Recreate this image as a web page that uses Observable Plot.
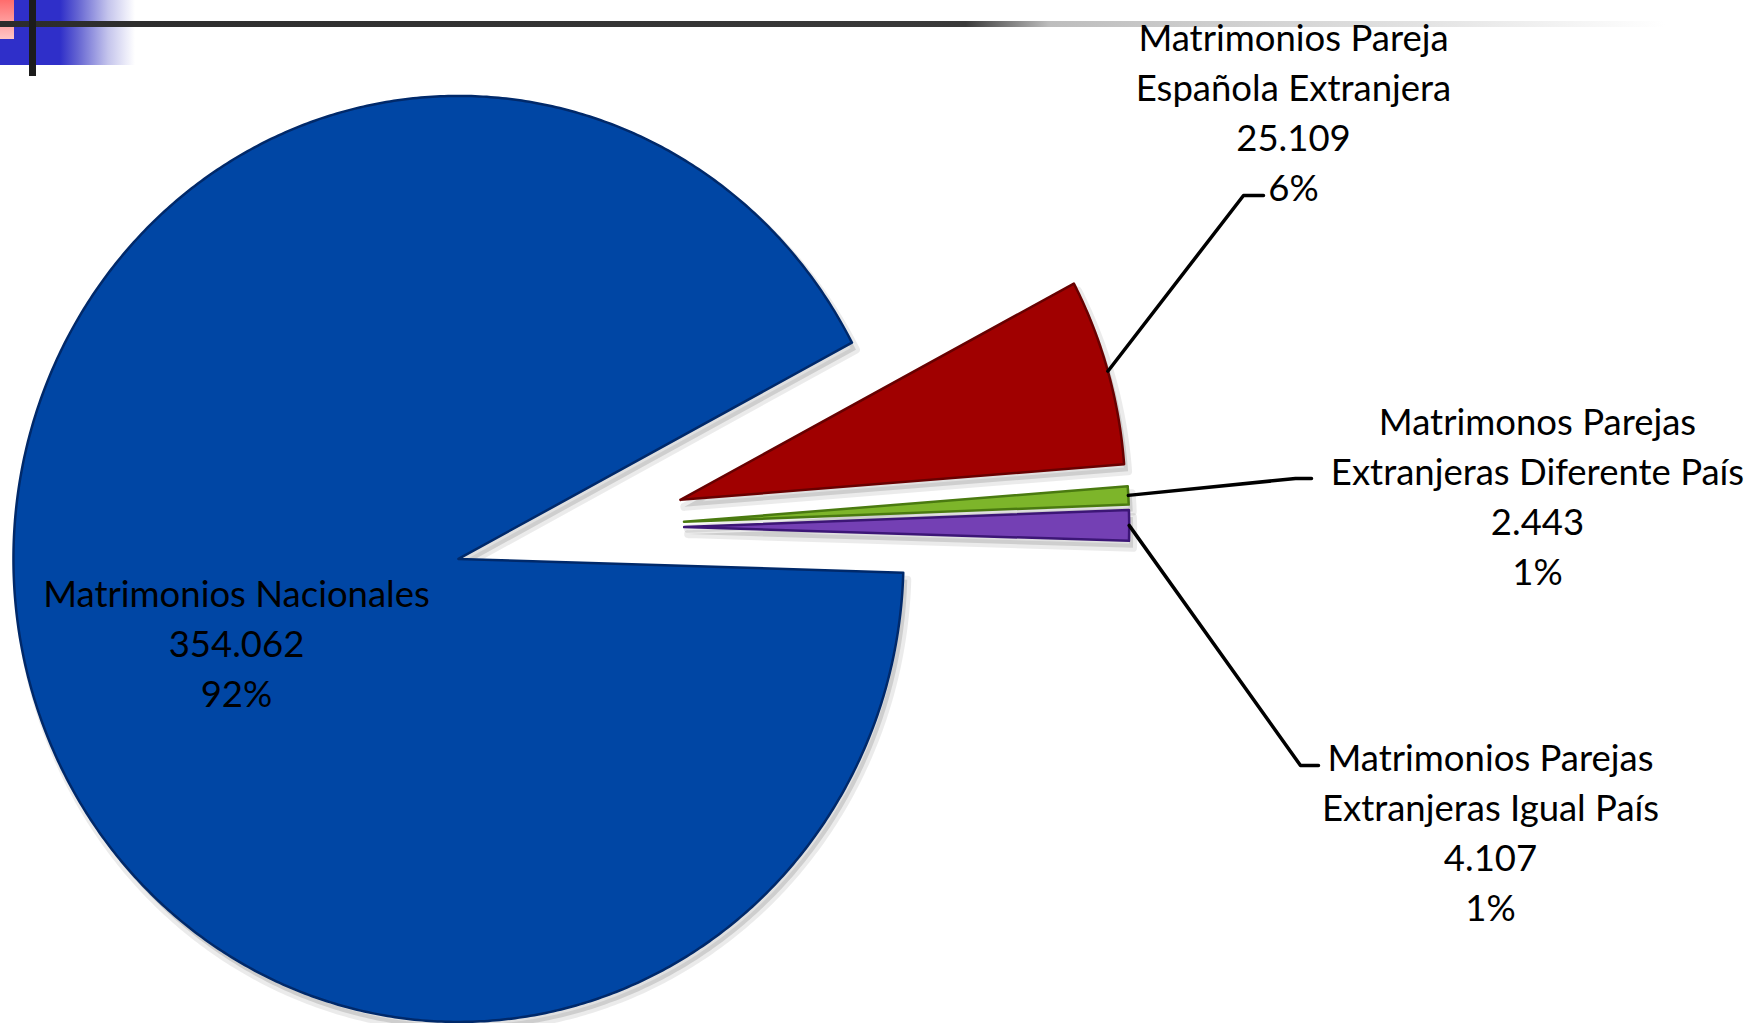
<!DOCTYPE html>
<html><head><meta charset="utf-8">
<script src="https://cdn.jsdelivr.net/npm/d3@7"></script>
<script src="https://cdn.jsdelivr.net/npm/@observablehq/plot@0.6"></script>
<style>
html,body{margin:0;padding:0;background:#fff;}
#wrap{position:relative;width:1751px;height:1023px;overflow:hidden;}
#chart{position:absolute;left:0;top:0;z-index:2;}
.deco{position:absolute;z-index:1;}
</style></head><body>
<div id="wrap">
  <div id="chart"></div>
  <div class="deco" style="left:0;top:0;width:135px;height:65px;background:linear-gradient(to right,#2f2fc9 0,#2f2fc9 60px,#6565d2 78px,#c4c4ec 108px,#fff 135px)"></div>
  <div class="deco" style="left:0;top:0;width:14px;height:39px;background:linear-gradient(#ff6c6c,#ffc6c6)"></div>
  <div class="deco" style="left:0;top:21px;width:1665px;height:6px;background:linear-gradient(to right,#2c2c2c 0%,#3a3a3a 58%,#bdbdbd 63%,#e2e2e2 85%,rgba(255,255,255,0) 100%)"></div>
  <div class="deco" style="left:29px;top:0;width:7px;height:76px;background:#1c1c1c"></div>
</div>
<script>
// ---- data ----
const categories = [
  "Matrimonios Nacionales",
  "Matrimonios Pareja\nEspañola Extranjera",
  "Matrimonos Parejas\nExtranjeras Diferente País",
  "Matrimonios Parejas\nExtranjeras Igual País"
];
const values = [354062, 25109, 2443, 4107];
const percents = [92, 6, 1, 1];

// ---- styles / layout ----
const colors = ["#0046a4", "#a00000", "#7db52a", "#7440b4"];
const edges = ["#00296a", "#680000", "#4a7a10", "#3c1676"];
const W = 1751, H = 1023, CX = 588, CY = 527, RX = 445, RY = 463;
const startDeg = 91.7;
const explode = [0.30, 0.215, 0.215, 0.215];
const px = (x) => (x - CX) / RX, py = (y) => (CY - y) / RY;
const labelPos = [[236, 640], [1293, 109], [1537, 493], [1490, 829]];
const leaderEnds = [null, [[1243, 195], [1263, 195]], [[1295, 478], [1311, 478]], [[1300, 765], [1318, 765]]];

const fmt = d3.formatLocale({decimal: ",", thousands: ".", grouping: [3], currency: ["", "€"]}).format(",");
const s0 = startDeg * Math.PI / 180;
const arcs = d3.pie().sort(null).startAngle(s0).endAngle(s0 + 2 * Math.PI)(values);

const slicePts = [];
const leaders = [];
arcs.forEach((p, i) => {
  const mid = (p.startAngle + p.endAngle) / 2;
  const ox = explode[i] * Math.sin(mid), oy = explode[i] * Math.cos(mid);
  const pts = [{x: ox, y: oy}];
  const n = Math.max(6, Math.ceil((p.endAngle - p.startAngle) / (Math.PI / 360)));
  for (let k = 0; k <= n; k++) {
    const a = p.startAngle + (p.endAngle - p.startAngle) * k / n;
    pts.push({x: ox + Math.sin(a), y: oy + Math.cos(a)});
  }
  pts.push({x: ox, y: oy});
  slicePts.push(pts);
  if (leaderEnds[i]) {
    leaders.push({id: i, x: ox + Math.sin(mid), y: oy + Math.cos(mid)});
    leaderEnds[i].forEach(([a, b]) => leaders.push({id: i, x: px(a), y: py(b)}));
  }
});

const labels = categories.map((c, i) => ({
  x: px(labelPos[i][0]), y: py(labelPos[i][1]),
  text: `${c}\n${fmt(values[i])}\n${percents[i]}%`
}));

const shadowMarks = slicePts.map((pts) =>
  Plot.line(pts, {x: "x", y: "y", fill: "#000", fillOpacity: 0.12, stroke: "#000", strokeOpacity: 0.08, strokeWidth: 8, dx: 4, dy: 7}));
const sliceMarks = slicePts.map((pts, i) =>
  Plot.line(pts, {x: "x", y: "y", fill: colors[i], stroke: edges[i], strokeWidth: 2.5}));

const plot = Plot.plot({
  width: W, height: H, margin: 0,
  x: {domain: [px(0), px(W)], range: [0, W], axis: null},
  y: {domain: [py(H), py(0)], range: [H, 0], axis: null},
  style: {background: "transparent", fontFamily: "Lato, 'Open Sans', sans-serif"},
  marks: [
    ...shadowMarks,
    ...sliceMarks,
    Plot.line(leaders, {x: "x", y: "y", z: "id", stroke: "#000", strokeWidth: 3.5}),
    Plot.text(labels, {x: "x", y: "y", text: "text", fontSize: 36.5, lineHeight: 1.37, fill: "#000", textAnchor: "middle", lineAnchor: "middle"})
  ]
});

document.getElementById("chart").appendChild(plot);
</script>
</body></html>
